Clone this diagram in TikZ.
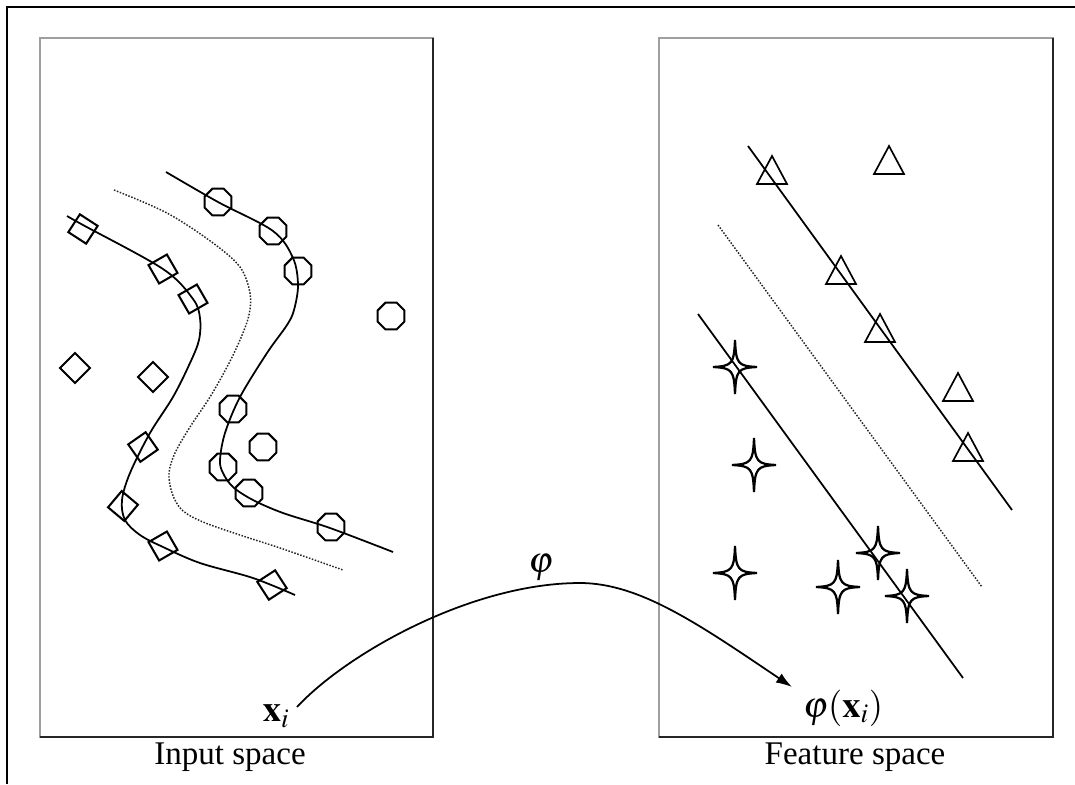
\documentclass[tikz,border=0pt]{standalone}
\usepackage{mathptmx}
\usepackage{fontspec}
\setmainfont{Liberation Serif}
\usetikzlibrary{arrows.meta}

\begin{document}
\begin{tikzpicture}[x=0.025cm, y=-0.025cm, >={Latex[length=0.4cm,width=0.27cm]},
		line width=1.25pt, every node/.style={font=\fontsize{23.5}{28}\selectfont},
		sym/.style={black, line width=1.45pt},
		sep/.style={dash pattern=on 1.1pt off 1.1pt, black!85, line width=1.05pt},
		panel/.style={gray!75, line width=1.1pt},
		mlbl/.style={font=\fontsize{26}{30}\selectfont}]
	\useasboundingbox (0,0) rectangle (1075,784);
	
	% 1. outer frame and the two panels
	\draw[line width=1.8pt] (7,784) -- (7,7) -- (1075,7);
	\draw[panel] (40,38) rectangle (433,737);
	\draw[black!85, line width=1.2pt] (433,38) -- (433,737) -- (40,737);
	\draw[panel] (659,38) rectangle (1053,737);
	\draw[black!85, line width=1.2pt] (1053,38) -- (1053,737) -- (659,737);
	\node (inlbl) at (230,757) {Input space};
	\node (featlbl) at (855,757) {Feature space};
	
	% 2. input space: curved margins and separating curve
	\draw plot[smooth, tension=0.55] coordinates {(67,216) (83,225) (163,269) (193,299) (200,318) (199,340) (190,363) (173,397) (150,433) (130,473) (122,500) (125,520) (140,535) (163,547) (200,563) (253,578) (295,595)};
	\draw[sep] plot[smooth, tension=0.55] coordinates {(114,190) (167,213) (213,243) (240,267) (250,293) (249,315) (240,340) (227,367) (210,397) (190,427) (175,453) (169,473) (172,493) (182,510) (203,522) (240,535) (283,549) (343,570)};
	\draw plot[smooth, tension=0.55] coordinates {(166,172) (218,202) (273,231) (293,258) (298,285) (294,310) (287,325) (267,353) (240,397) (225,433) (220,460) (223,473) (233,487) (253,500) (283,513) (330,528) (393,552)};
	
	% diamonds
	\foreach \x/\y/\r in {83/229/12, 163/269/-15, 193/299/-15, 75/368/0, 153/377/0, 143/447/-10, 123/506/5, 163/546/-15, 272/585/-12}
		\draw[sym, rotate around={\r:(\x,\y)}] (\x-15,\y) -- (\x,\y-15) -- (\x+15,\y) -- (\x,\y+15) -- cycle;
	
	% octagons
	\foreach \x/\y in {218/202, 273/231, 298/271, 391/316, 233/409, 263/447, 223/467, 249/493, 331/527}
		\draw[sym, shift={(\x,\y)}] (22.5:14.5) -- (67.5:14.5) -- (112.5:14.5) -- (157.5:14.5) -- (202.5:14.5) -- (247.5:14.5) -- (292.5:14.5) -- (337.5:14.5) -- cycle;
	
	% 3. feature space: margins and separating line
	\draw (748,146) -- (1012,510);
	\draw[sep] (718,225) -- (982,587);
	\draw (698,314) -- (963,678);
	
	% triangles
	\foreach \x/\y in {772/170, 889/160, 841/270, 880/328, 958/387, 968/447} {
		\draw[sym, line width=1.2pt, shift={(\x,\y)}] (-15,14) -- (0,-14) -- (15,14) -- cycle;
		\draw[sym, line width=1.8pt, shift={(\x,\y)}] (-15,14) -- (15,14);
	}
	
	% stars
	\foreach \x/\y in {735/367, 754/465, 735/573, 838/587, 878/553, 907/596}
		\draw[sym, line width=1.6pt, shift={(\x,\y)}] (0,-27) .. controls (1,-3) and (3,-1) .. (22,0) .. controls (3,1) and (1,3) .. (0,27) .. controls (-1,3) and (-3,1) .. (-22,0) .. controls (-3,-1) and (-1,-3) .. (0,-27) -- cycle;
	
	% 4. the map phi
	\node[mlbl] (xi) at (276,716) {$\mathbf{x}_i$};
	\node[mlbl] (phixi) at (843,708) {$\varphi(\mathbf{x}_i)$};
	\node[mlbl] (phi) at (541,568) {$\varphi$};
	\coordinate (xs) at (297,707);
	\coordinate (peak) at (580,583);
	\coordinate (xt) at (792,687);
	\draw[->] (xs) .. controls (345,655) and (470,583) .. (peak) .. controls (640,583) and (700,625) .. (xt);
	
\end{tikzpicture}
\end{document}
